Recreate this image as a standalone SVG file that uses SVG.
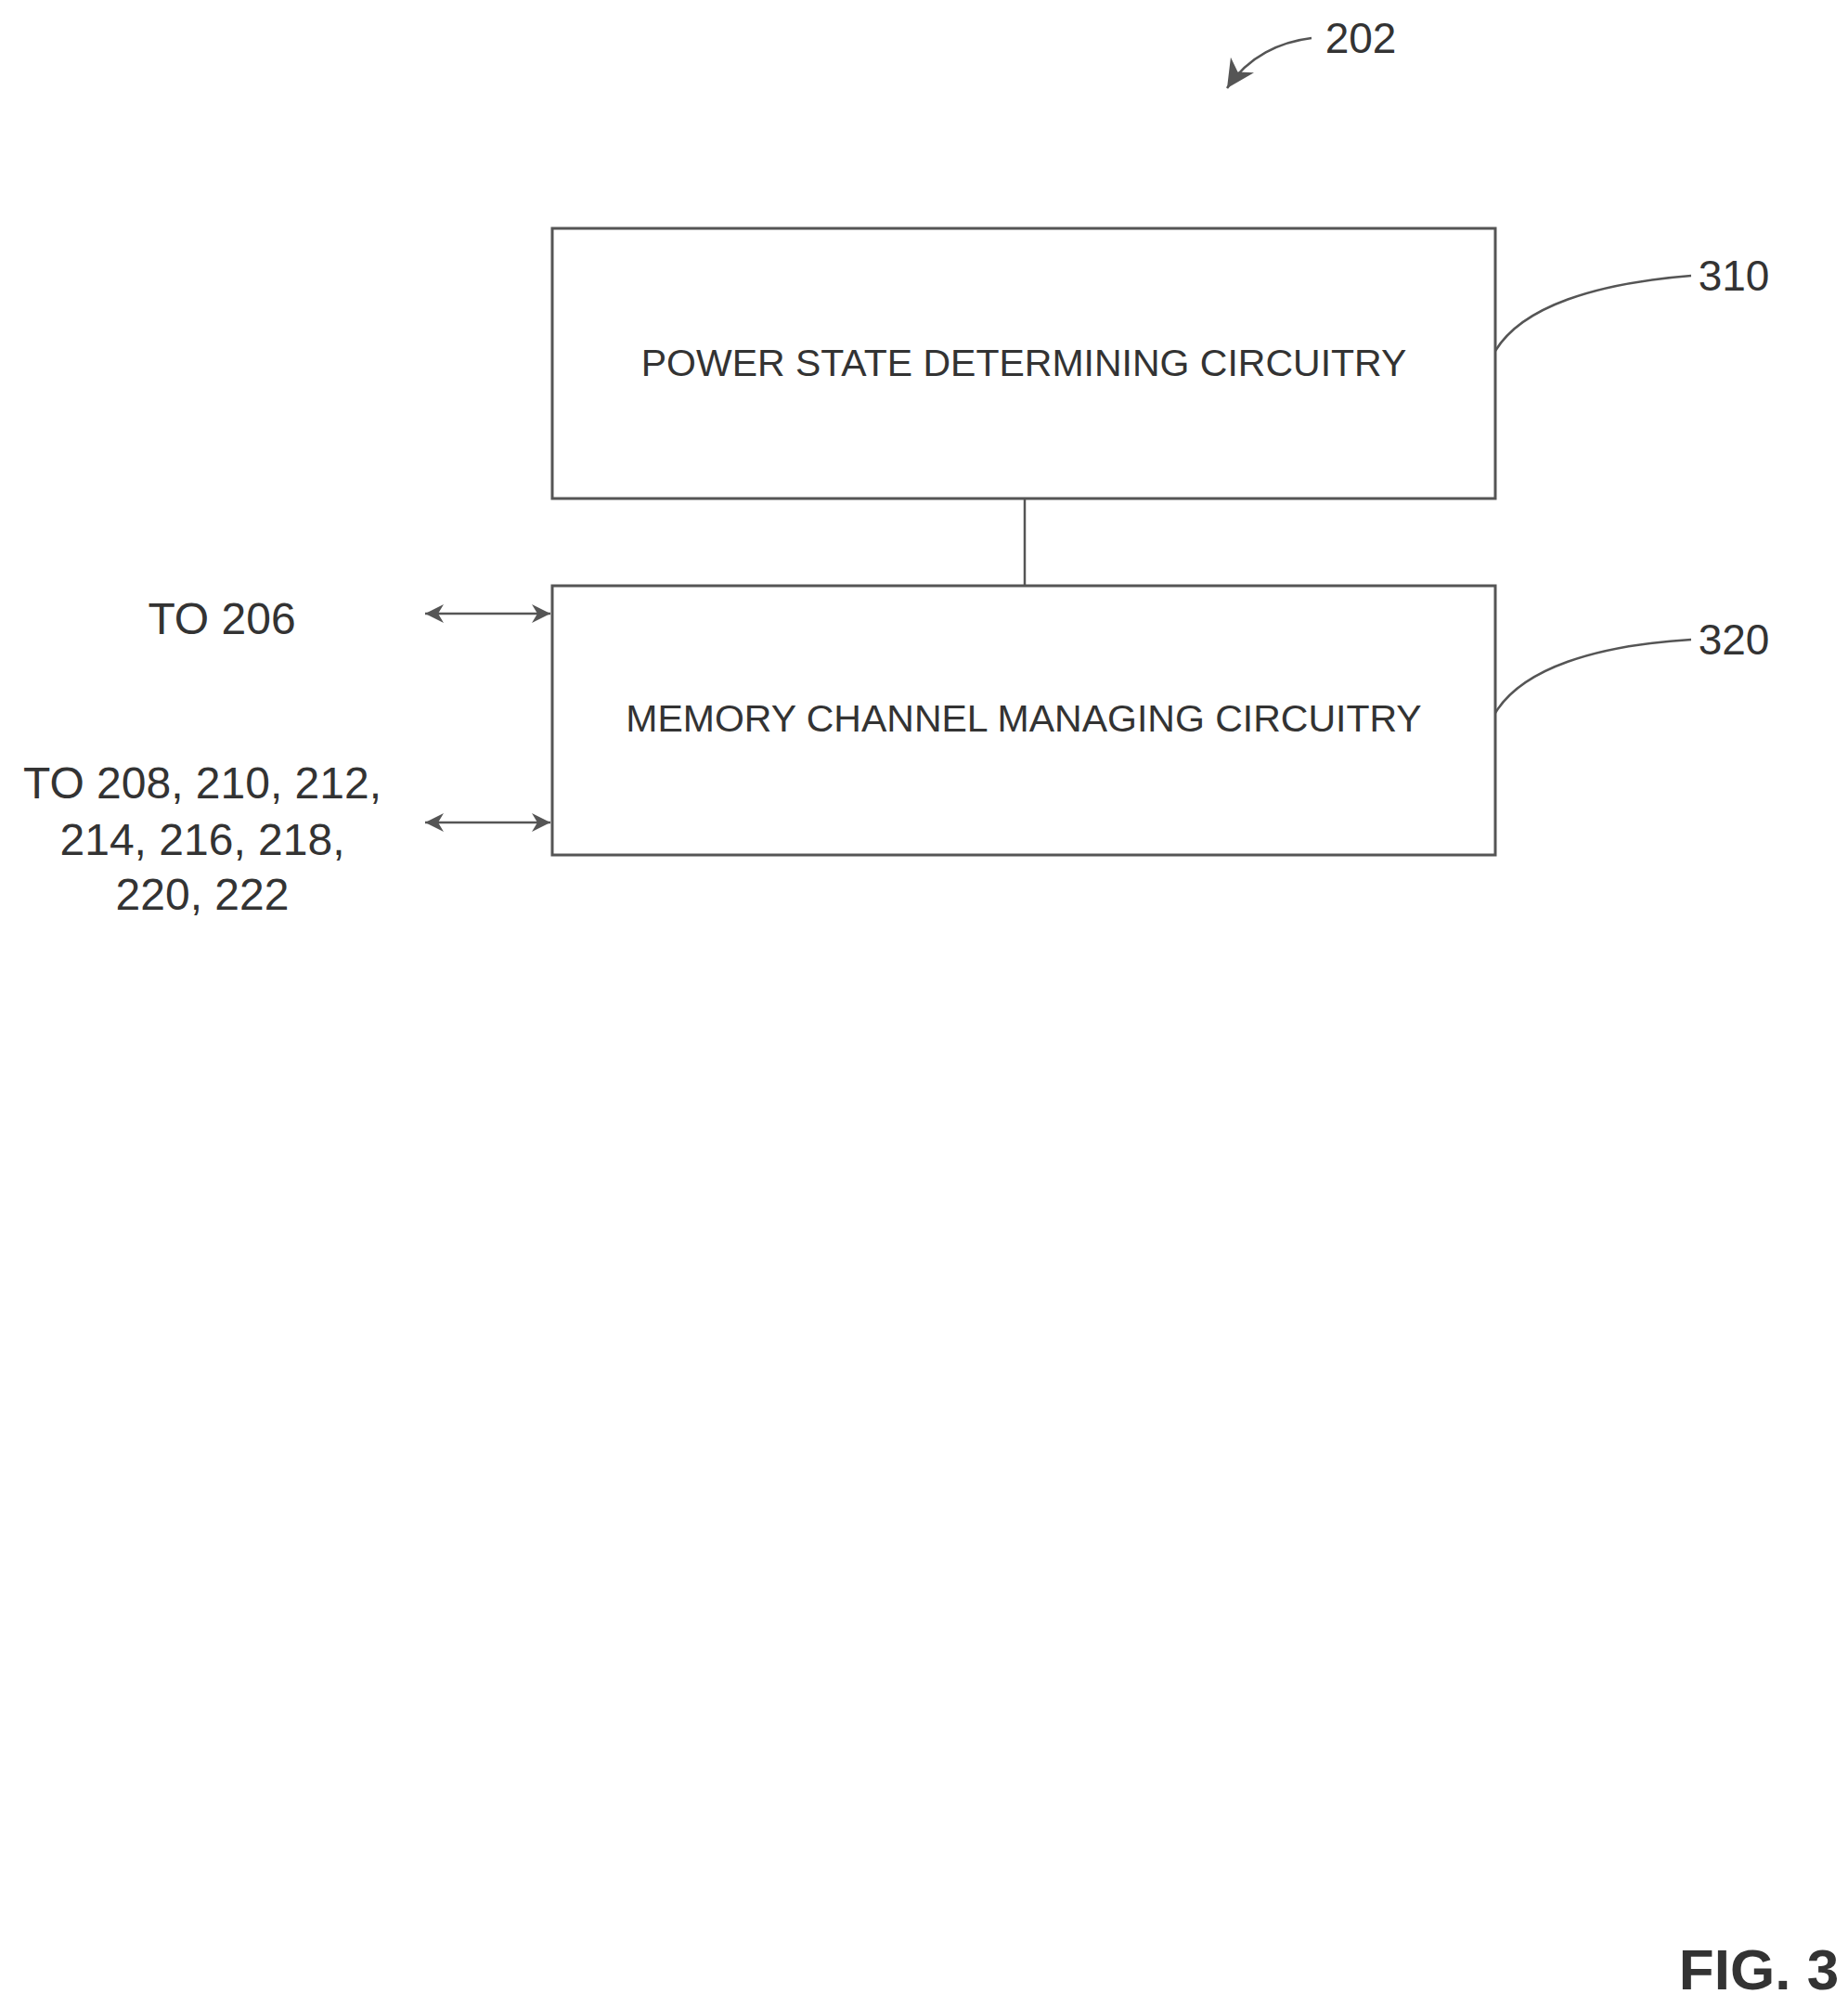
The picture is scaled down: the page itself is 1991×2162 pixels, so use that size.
<svg xmlns="http://www.w3.org/2000/svg" width="1991" height="2162" viewBox="0 0 1991 2162">
<style>
.box{fill:#fff;stroke:#555;stroke-width:3}
.ln{fill:none;stroke:#555;stroke-width:2.5}
.t{font-family:"Liberation Sans",Arial,sans-serif;font-size:46px;fill:#333;text-anchor:middle}
.bt{font-family:"Liberation Sans",Arial,sans-serif;font-size:41px;fill:#333;text-anchor:middle}
</style>
<defs>
<marker id="ah" viewBox="0 0 10 10" refX="10" refY="5" markerWidth="26" markerHeight="20" markerUnits="userSpaceOnUse" orient="auto-start-reverse"><path d="M0,0 L10,5 L0,10 L3,5 Z" fill="#555"/></marker>
<marker id="ah2" viewBox="0 0 10 10" refX="10" refY="5" markerWidth="36" markerHeight="30" markerUnits="userSpaceOnUse" orient="auto"><path d="M0,0 L10,5 L0,10 L3,5 Z" fill="#555"/></marker>
</defs>
<rect width="1991" height="2162" fill="#fff"/>
<g id="connectors">
<line class="ln" x1="458" y1="661" x2="593" y2="661" marker-start="url(#ah)" marker-end="url(#ah)"/>
<line class="ln" x1="458" y1="886" x2="593" y2="886" marker-start="url(#ah)" marker-end="url(#ah)"/>
<line class="ln" x1="1104" y1="537" x2="1104" y2="631"/>
<path class="ln" d="M1611,378 C1640,330 1720,305 1822,297"/>
<path class="ln" d="M1611,768 C1640,720 1720,695 1822,689"/>
<path class="ln" d="M1413,41 C1380,45 1345,60 1322,95" marker-end="url(#ah2)"/>
</g>
<g id="n310">
<rect class="box" x="595" y="246" width="1016" height="291"/>
<text class="bt" x="1103" y="405">POWER STATE DETERMINING CIRCUITRY</text>
<text class="t" x="1868" y="313">310</text>
</g>
<g id="n320">
<rect class="box" x="595" y="631" width="1016" height="290"/>
<text class="bt" x="1103" y="788">MEMORY CHANNEL MANAGING CIRCUITRY</text>
<text class="t" x="1868" y="705">320</text>
</g>
<g id="labels">
<text class="t" x="1466" y="57">202</text>
<text class="t" x="239" y="683" style="font-size:48px">TO 206</text>
<text class="t" x="218" y="860" style="font-size:48px">TO 208, 210, 212,</text>
<text class="t" x="218" y="921" style="font-size:48px">214, 216, 218,</text>
<text class="t" x="218" y="980" style="font-size:48px">220, 222</text>
<text x="1895" y="2143" style="font-family:'Liberation Sans',Arial,sans-serif;font-size:62px;font-weight:bold;fill:#333;text-anchor:middle">FIG. 3</text>
</g>
</svg>
